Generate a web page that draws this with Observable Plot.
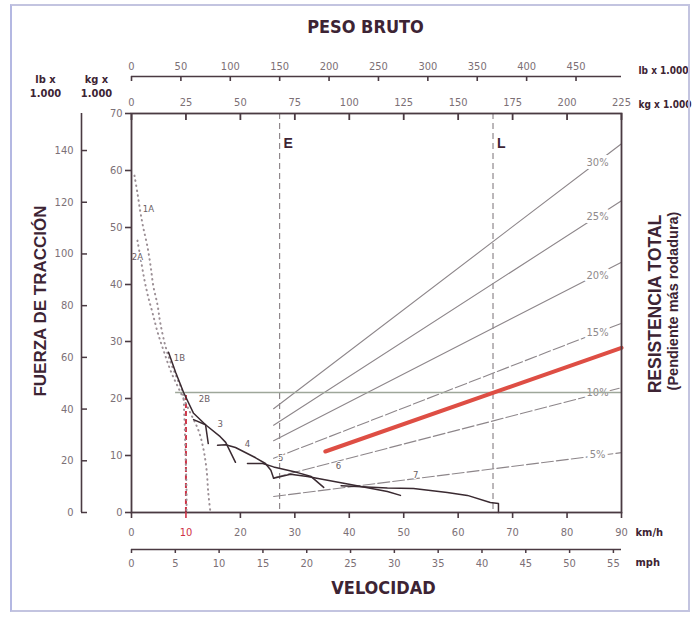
<!DOCTYPE html>
<html><head><meta charset="utf-8">
<script src="https://cdn.jsdelivr.net/npm/d3@7"></script>
<script src="https://cdn.jsdelivr.net/npm/@observablehq/plot@0.6"></script>
<style>
html,body{margin:0;padding:0;background:#fff;}
#wrap{position:relative;width:695px;height:619px;overflow:hidden;background:#fff;}
#chart{position:absolute;left:0;top:0;}
#border{position:absolute;left:10px;top:4px;width:676px;height:604px;border:2px solid #c3c4e0;border-left-color:#b4b8e2;pointer-events:none;}
</style></head><body><div id="wrap"><div id="chart"></div><div id="border"></div></div>
<script>
// ---- axis tick values ----
const kmhTicks = [0,10,20,30,40,50,60,70,80,90];
const rimpullTicks = [0,10,20,30,40,50,60,70];          // kg x 1000
const kgWeightTicks = [0,25,50,75,100,125,150,175,200,225];
const lbWeightTicks = [0,50,100,150,200,250,300,350,400,450];
const mphTicks = [0,5,10,15,20,25,30,35,40,45,50,55];
const lbForceTicks = [0,20,40,60,80,100,120,140];

// ---- weight markers (kg x 1000) ----
const markerNames = ["E","L"];
const markerWeights = [68,166];
const markerLabelY = 64.7;

// ---- grade (total resistance) lines: speed km/h vs rimpull kg x 1000 ----
const gradeNames = ["30%","25%","20%","15%","10%","5%"];
const gradeStartX = 26.1;
const gradeStartY = [18.2,15.3,12.6,9.5,6.1,2.8];
const gradeEndX = 90;
const gradeEndY = [64.7,54.7,43.9,33.2,21.9,10.5];
const gradeLabelX = 85.6;
const gradeLabelY = [61.4,52.0,41.6,31.5,21.0,10.1];

// highlighted resistance line (red)
const redX = [35.6,90];
const redY = [10.7,28.9];

// operating point lines
const hLineY = 21.05;
const hLineX1 = 8.1;
const opSpeed = 10;

// ---- rimpull curves per gear [km/h, kg x 1000] ----
const gear2B = [[6.8,28.1],[8.1,24.6],[9.55,21.1],[11.4,17.4],[13.6,15.4],[14.1,12.1]];
const gear3  = [[11.4,16.3],[13.6,15.4],[16.3,13.3],[17.3,12.3],[19.1,8.8]];
const gear4  = [[15.8,11.8],[17.3,11.9],[19.1,11.4],[22.8,9.6],[24.6,8.6],[25.6,7.4],[26.1,6.0]];
const gear5  = [[21.3,8.6],[24.1,8.6],[26.1,8.0],[30.5,7.0],[33.0,6.3],[35.3,4.4]];
const gear6  = [[26.1,6.0],[29.2,6.7],[32.3,6.3],[40.2,4.9],[47.0,3.7],[49.4,3.0]];
const gear7  = [[38.5,4.7],[47.0,4.3],[51.8,4.2],[58.0,3.5],[61.7,3.0],[65.9,1.75],[67.4,1.6],[67.4,0]];
// dotted (A range) curves
const dots1A = [[0.55,59.1],[1.1,56.0],[1.65,52.6],[2.2,49.8],[2.9,46.8],[3.5,43.3],[4.0,39.8],[4.8,36.3],[5.3,33.2],[6.2,29.3],[7.2,26.3],[8.4,23.5],[9.4,21.1],[9.7,17.0],[9.9,10.9],[10.1,3.9],[10.1,0]];
const dots2A = [[1.1,47.7],[1.8,43.9],[2.4,40.7],[3.1,37.7],[3.9,34.9],[4.8,31.6],[5.9,28.4],[7.3,24.6],[9.0,21.1],[10.8,17.5],[12.3,14.4],[13.2,11.2],[13.8,7.4],[14.1,3.5],[14.5,0]];

// gear labels
const gearLabelText = ["1A","2A","1B","2B","3","4","5","6","7"];
const gearLabelX = [3.1,1.1,8.8,13.4,16.3,21.3,27.4,38.0,52.2];
const gearLabelY = [53.3,44.9,27.2,20.0,15.6,12.1,9.5,8.1,6.5];

// ---- unit conversions ----
const kgToX = 90/225, lbToKg = 1/2.20462, mphToKmh = 1.609344;

const F = "'Liberation Sans Narrow','DejaVu Sans Condensed','Roboto Condensed',sans-serif";
const FB = "'Liberation Sans','Arial',sans-serif";
const axisC = "#4a3a42", labC = "#7c7076", titleC = "#3d2434", gridC = "#8d868a", redC = "#cf3246";

const toRows = (pts, name) => pts.map(([x,y]) => ({x, y, name}));
const gears = [
  ...toRows(gear2B,"2B"), ...toRows(gear3,"3"), ...toRows(gear4,"4"),
  ...toRows(gear5,"5"), ...toRows(gear6,"6"), ...toRows(gear7,"7")
];
const dotted = [...toRows(dots1A,"1A"), ...toRows(dots2A,"2A")];
const gradeRows = gradeNames.flatMap((g,i) => [
  {g, i, x: gradeStartX, y: gradeStartY[i]}, {g, i, x: gradeEndX, y: gradeEndY[i]}
]);
const redRows = redX.map((x,i)=>({x, y: redY[i]}));
const markers = markerNames.map((n,i)=>({n, x: markerWeights[i]*kgToX}));
const gearLabels = gearLabelText.map((t,i)=>({t, x: gearLabelX[i], y: gearLabelY[i]}));

const kgPos = kgWeightTicks.map(k => k*kgToX);
const lbPos = lbWeightTicks.map(l => l*lbToKg*kgToX);
const mphPos = mphTicks.map(m => m*mphToKmh);
const lbForcePos = lbForceTicks.map(l => l*lbToKg);

const plot = Plot.plot({
  width: 695, height: 619,
  marginTop: 113, marginBottom: 107, marginLeft: 131, marginRight: 74,
  x: {domain: [0,90]},
  y: {domain: [0,70]},
  style: {fontFamily: F, background: "transparent", overflow: "visible"},
  marks: [
    // grade lines
    Plot.line(gradeRows.filter(d => d.i < 3), {x:"x", y:"y", z:"g", stroke: gridC, strokeWidth: 1.1}),
    Plot.line(gradeRows.filter(d => d.i >= 3), {x:"x", y:"y", z:"g", stroke: gridC, strokeWidth: 1.1, strokeDasharray: "12,3"}),
    Plot.text(gradeNames, {x: () => gradeLabelX, y: (d,i) => gradeLabelY[i], text: d => d, fill: "#8f8a8c", stroke: "white", strokeWidth: 6, fontSize: 11}),
    // weight markers
    Plot.ruleX(markers, {x: "x", stroke: "#8f888c", strokeWidth: 1.2, strokeDasharray: "6,4"}),
    Plot.text(markers, {x: "x", y: () => markerLabelY, text: "n", dx: 4, textAnchor: "start", fontWeight: "bold", fontSize: 14, fill: titleC, fontFamily: FB}),
    // operating lines
    Plot.ruleY([hLineY], {x1: hLineX1, x2: 90, stroke: "#9ea79a", strokeWidth: 1.6}),
    Plot.ruleX([opSpeed], {y1: 0, y2: hLineY, stroke: redC, strokeWidth: 2, strokeDasharray: "5,3"}),
    Plot.line(redRows, {x:"x", y:"y", stroke: "#de4e44", strokeWidth: 4}),
    // dotted A curves
    Plot.line(dotted, {x:"x", y:"y", z:"name", stroke: "#9b8f95", strokeWidth: 2, strokeDasharray: "0.5,4.5", strokeLinecap: "round", curve: "catmull-rom"}),
    // gear curves
    Plot.line(gears, {x:"x", y:"y", z:"name", stroke: "#3a2a31", strokeWidth: 1.5}),
    Plot.text(gearLabels, {x:"x", y:"y", text:"t", fontSize: 9.5, fill: "#6a5e64", stroke: "white", strokeWidth: 2}),
    // frame & main axes
    Plot.frame({stroke: axisC, strokeWidth: 1.8}),
    Plot.axisY(rimpullTicks, {anchor: "left", tickSize: 6, tickPadding: 3, label: null, stroke: axisC, strokeWidth: 1.6, fill: labC, fontSize: 11}),
    Plot.axisX(kmhTicks.filter(d => d !== opSpeed), {anchor: "bottom", tickSize: 6, tickPadding: 10, label: null, stroke: axisC, strokeWidth: 1.6, fill: labC, fontSize: 11}),
    Plot.axisX([opSpeed], {anchor: "bottom", tickSize: 6, tickPadding: 10, label: null, stroke: redC, strokeWidth: 1.6, fill: redC, fontSize: 11}),
    // top kg axis
    Plot.tickX(kgPos, {x: d => d, insetBottom: 392, stroke: axisC, strokeWidth: 1.8}),
    Plot.axisX(kgPos, {anchor: "top", tickSize: 0, tickPadding: 8, label: null, fill: labC, fontSize: 11, tickFormat: d => Math.round(d/kgToX)}),
    // top lb axis
    Plot.ruleY([70], {dy: -37, stroke: axisC, strokeWidth: 1.6}),
    Plot.tickX(lbPos, {x: d => d, dy: -37, insetBottom: 394, stroke: axisC, strokeWidth: 1.6}),
    Plot.axisX(lbPos, {anchor: "top", dy: -37, tickSize: 0, tickPadding: 7, label: null, fill: labC, fontSize: 11, tickFormat: d => Math.round(d/(kgToX*lbToKg))}),
    // bottom mph axis
    Plot.ruleY([0], {dy: 37, stroke: axisC, strokeWidth: 1.6}),
    Plot.axisX(mphPos, {anchor: "bottom", dy: 37, tickSize: 4, tickPadding: 6, label: null, stroke: axisC, strokeWidth: 1.5, fill: labC, fontSize: 11, tickFormat: d => Math.round(d/mphToKmh)}),
    // left lb axis
    Plot.ruleX([0], {dx: -50, stroke: axisC, strokeWidth: 1.6}),
    Plot.tickY(lbForcePos, {y: d => d, dx: -50, insetRight: 484, stroke: axisC, strokeWidth: 1.5}),
    Plot.axisY(lbForcePos, {anchor: "left", dx: -50, tickSize: 0, tickPadding: 8, label: null, fill: labC, fontSize: 11, tickFormat: d => Math.round(d/lbToKg)}),
    // unit labels
    Plot.text(["lb x 1.000"], {frameAnchor: "top-right", dx: 17, dy: -47, text: d => d, textAnchor: "start", fontWeight: "bold", fill: titleC, fontSize: 10}),
    Plot.text(["kg x 1.000"], {frameAnchor: "top-right", dx: 17, dy: -13, text: d => d, textAnchor: "start", fontWeight: "bold", fill: titleC, fontSize: 10}),
    Plot.text(["lb x\n1.000"], {frameAnchor: "top-left", dx: -86, dy: -40, text: d => d, textAnchor: "middle", fontWeight: "bold", fill: titleC, fontSize: 11, lineHeight: 1.25}),
    Plot.text(["kg x\n1.000"], {frameAnchor: "top-left", dx: -35, dy: -40, text: d => d, textAnchor: "middle", fontWeight: "bold", fill: titleC, fontSize: 11, lineHeight: 1.25}),
    Plot.text(["km/h"], {frameAnchor: "bottom-right", dx: 14, dy: 23, text: d => d, textAnchor: "start", fontWeight: "bold", fill: titleC, fontSize: 11}),
    Plot.text(["mph"], {frameAnchor: "bottom-right", dx: 14, dy: 53, text: d => d, textAnchor: "start", fontWeight: "bold", fill: titleC, fontSize: 11}),
    // titles
    Plot.text(["PESO BRUTO"], {frameAnchor: "top", dx: -11, dy: -93, text: d => d, textAnchor: "middle", fontWeight: "bold", fontSize: 18, fill: titleC}),
    Plot.text(["VELOCIDAD"], {frameAnchor: "bottom", dx: 7, dy: 81, text: d => d, textAnchor: "middle", fontWeight: "bold", fontSize: 18, fill: titleC}),
    Plot.text(["FUERZA DE TRACCIÓN"], {frameAnchor: "left", dx: -91, dy: -12, rotate: -90, text: d => d, textAnchor: "middle", fontWeight: "bold", fontSize: 17, fill: titleC, fontFamily: FB}),
    Plot.text(["RESISTENCIA TOTAL"], {frameAnchor: "right", dx: 34, dy: -9, rotate: -90, text: d => d, textAnchor: "middle", fontWeight: "bold", fontSize: 17.5, fill: titleC, fontFamily: FB}),
    Plot.text(["(Pendiente más rodadura)"], {frameAnchor: "right", dx: 52, dy: -12, rotate: -90, text: d => d, textAnchor: "middle", fontWeight: "bold", fontSize: 14.5, fill: titleC, fontFamily: FB})
  ]
});
document.getElementById("chart").appendChild(plot);
</script></body></html>
